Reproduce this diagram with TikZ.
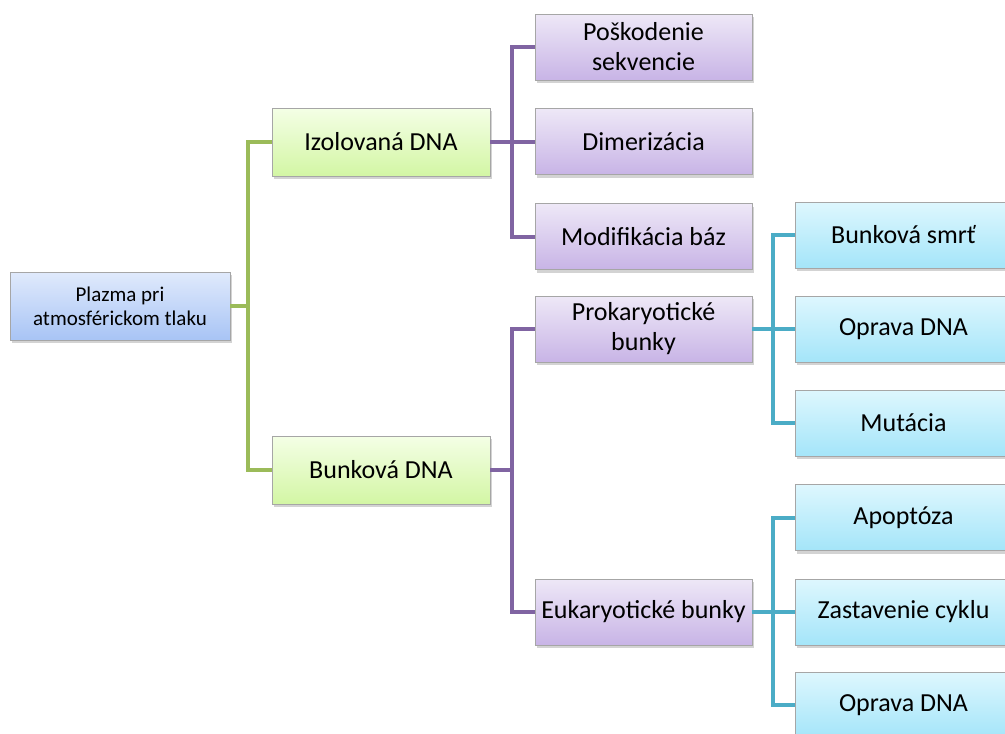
\documentclass[tikz,border=0pt]{standalone}
\usepackage{fontspec}
\setmainfont{Carlito}
\usetikzlibrary{shadows}

\definecolor{grnline}{HTML}{9BBB59}
\definecolor{purline}{HTML}{8064A2}
\definecolor{cyanline}{HTML}{4BACC6}
\definecolor{bluetop}{HTML}{E0EAFC}
\definecolor{bluebot}{HTML}{A8C4F5}
\definecolor{grntop}{HTML}{F4FFE6}
\definecolor{grnbot}{HTML}{D3F6A4}
\definecolor{purtop}{HTML}{EEE8F7}
\definecolor{purbot}{HTML}{C8B4E6}
\definecolor{cyantop}{HTML}{DEF7FE}
\definecolor{cyanbot}{HTML}{A4E5F9}

\tikzset{
  box/.style={draw=gray!70, line width=0.8pt, minimum height=66pt,
    align=center, inner sep=2pt,
    drop shadow={opacity=0.35, shadow xshift=2pt, shadow yshift=-3pt},
    font=\fontsize{26}{30}\selectfont},
  rootbox/.style={box, minimum width=220pt, minimum height=68pt,
    top color=bluetop, bottom color=bluebot,
    font=\fontsize{21}{24}\selectfont},
  grnbox/.style={box, minimum width=218pt, minimum height=68pt,
    top color=grntop, bottom color=grnbot},
  purbox/.style={box, minimum width=217pt,
    top color=purtop, bottom color=purbot},
  cyanbox/.style={box, minimum width=217pt,
    top color=cyantop, bottom color=cyanbot},
  grn/.style={draw=grnline, line width=4pt},
  pur/.style={draw=purline, line width=4pt},
  cya/.style={draw=cyanline, line width=4pt}
}

\begin{document}
\begin{tikzpicture}[x=1pt,y=-1pt]
    \useasboundingbox (0,0) rectangle (1005,734);
    \clip (0,0) rectangle (1005,734);

    % root and first level
    \node[rootbox] (plazma) at (120,306) {Plazma pri\\atmosférickom tlaku};
    \node[grnbox] (izol) at (381,142) {Izolovaná DNA};
    \node[grnbox] (bunk) at (381,470) {Bunková DNA};

    % second level
    \node[purbox] (posk) at (643.5,47) {Poškodenie\\sekvencie};
    \node[purbox] (dime) at (643.5,141.5) {Dimerizácia};
    \node[purbox] (modi) at (643.5,236.5) {Modifikácia báz};
    \node[purbox] (prok) at (643.5,329) {Prokaryotické\\bunky};
    \node[purbox] (euka) at (643.5,612) {Eukaryotické bunky};

    % third level
    \node[cyanbox] (smrt) at (903.5,235) {Bunková smrť};
    \node[cyanbox] (opr1) at (903.5,329) {Oprava DNA};
    \node[cyanbox] (muta) at (903.5,423) {Mutácia};
    \node[cyanbox] (apop) at (903.5,517.5) {Apoptóza};
    \node[cyanbox] (zast) at (903.5,612) {Zastavenie cyklu};
    \node[cyanbox] (opr2) at (903.5,705) {Oprava DNA};

    % branch points
    \coordinate (g0) at (248,306);
    \coordinate (p1) at (512,142);
    \coordinate (p2) at (512,470);
    \coordinate (c1) at (773,329);
    \coordinate (c2) at (773,612);

    \draw[grn] (plazma.east) -- (g0);
    \draw[grn] (g0) |- (izol.west);
    \draw[grn] (g0) |- (bunk.west);

    \draw[pur] (izol.east) -- (p1);
    \draw[pur] (p1) |- (posk.west);
    \draw[pur] (p1) |- (dime.west);
    \draw[pur] (p1) |- (modi.west);
    \draw[pur] (bunk.east) -- (p2);
    \draw[pur] (p2) |- (prok.west);
    \draw[pur] (p2) |- (euka.west);

    \draw[cya] (prok.east) -- (c1);
    \draw[cya] (c1) |- (smrt.west);
    \draw[cya] (c1) |- (opr1.west);
    \draw[cya] (c1) |- (muta.west);
    \draw[cya] (euka.east) -- (c2);
    \draw[cya] (c2) |- (apop.west);
    \draw[cya] (c2) |- (zast.west);
    \draw[cya] (c2) |- (opr2.west);
\end{tikzpicture}
\end{document}
